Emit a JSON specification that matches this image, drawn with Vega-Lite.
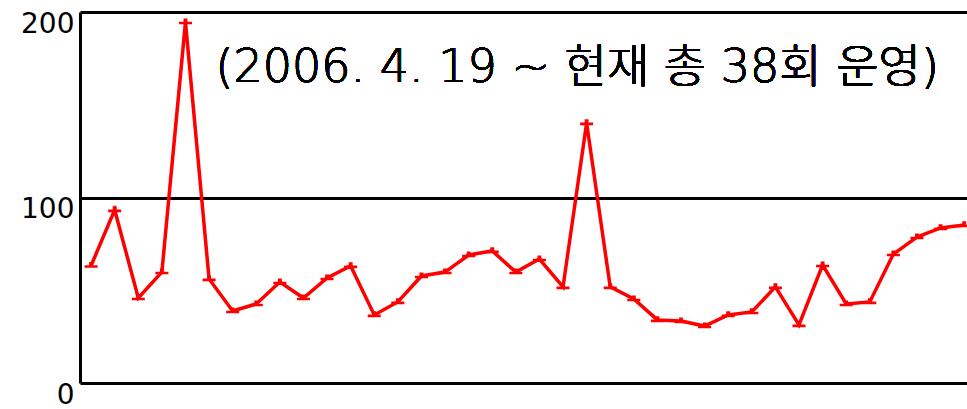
{
  "$schema": "https://vega.github.io/schema/vega-lite/v6.json",
  "autosize": {"type": "none"},
  "padding": {"left": 80, "top": 12, "right": 0, "bottom": 26},
  "width": 887,
  "height": 371,
  "background": "white",
  "config": {"view": {"stroke": null}},
  "data": {"values": [
    {"n": 1, "v": 63.3}, {"n": 2, "v": 93.3}, {"n": 3, "v": 45.8}, {"n": 4, "v": 59.8},
    {"n": 5, "v": 194.6}, {"n": 6, "v": 56.1}, {"n": 7, "v": 38.8}, {"n": 8, "v": 42.6},
    {"n": 9, "v": 54.4}, {"n": 10, "v": 45.8}, {"n": 11, "v": 56.6}, {"n": 12, "v": 63.1},
    {"n": 13, "v": 36.7}, {"n": 14, "v": 43.7}, {"n": 15, "v": 57.7}, {"n": 16, "v": 59.8},
    {"n": 17, "v": 69.0}, {"n": 18, "v": 71.2}, {"n": 19, "v": 59.8}, {"n": 20, "v": 66.8},
    {"n": 21, "v": 51.8}, {"n": 22, "v": 140.2}, {"n": 23, "v": 51.8}, {"n": 24, "v": 45.3},
    {"n": 25, "v": 34.0}, {"n": 26, "v": 33.4}, {"n": 27, "v": 30.7}, {"n": 28, "v": 36.7},
    {"n": 29, "v": 38.3}, {"n": 30, "v": 51.8}, {"n": 31, "v": 31.3}, {"n": 32, "v": 63.6},
    {"n": 33, "v": 42.6}, {"n": 34, "v": 43.7}, {"n": 35, "v": 69.5}, {"n": 36, "v": 78.7},
    {"n": 37, "v": 83.6}, {"n": 38, "v": 85.2}
  ]},
  "encoding": {
    "x": {"field": "n", "type": "quantitative", "scale": {"domain": [0.53, 38.12], "nice": false, "zero": false}, "axis": null},
    "y": {"field": "v", "type": "quantitative", "scale": {"domain": [0, 200], "nice": false},
      "axis": {"title": null, "values": [0, 100, 200], "grid": true, "gridColor": "black", "gridWidth": 3, "gridOpacity": 1,
        "domain": true, "domainColor": "black", "domainWidth": 3, "ticks": false,
        "labelFont": "DejaVu Sans", "labelFontSize": 28, "labelColor": "black", "labelBaseline": "middle", "labelOffset": 12, "labelPadding": 6}}
  },
  "layer": [
    {"mark": {"type": "line", "color": "#ff0000", "strokeWidth": 3.5}},
    {"mark": {"type": "point", "filled": true, "opacity": 1, "color": "#ff0000", "size": 170,
      "shape": "M-1,-0.05L-0.3,-0.05L-0.3,-0.55L0.3,-0.55L0.3,-0.05L1,-0.05L1,0.35L-1,0.35Z"}},
    {"mark": {"type": "text", "text": "(2006. 4. 19 ~ 현재 총 38회 운영)", "font": "DejaVu Sans, Noto Sans CJK KR", "fontSize": 46, "fontWeight": 300, "color": "black", "align": "center", "baseline": "middle"},
      "encoding": {"x": {"datum": 21.6}, "y": {"datum": 170}}}
  ]
}
